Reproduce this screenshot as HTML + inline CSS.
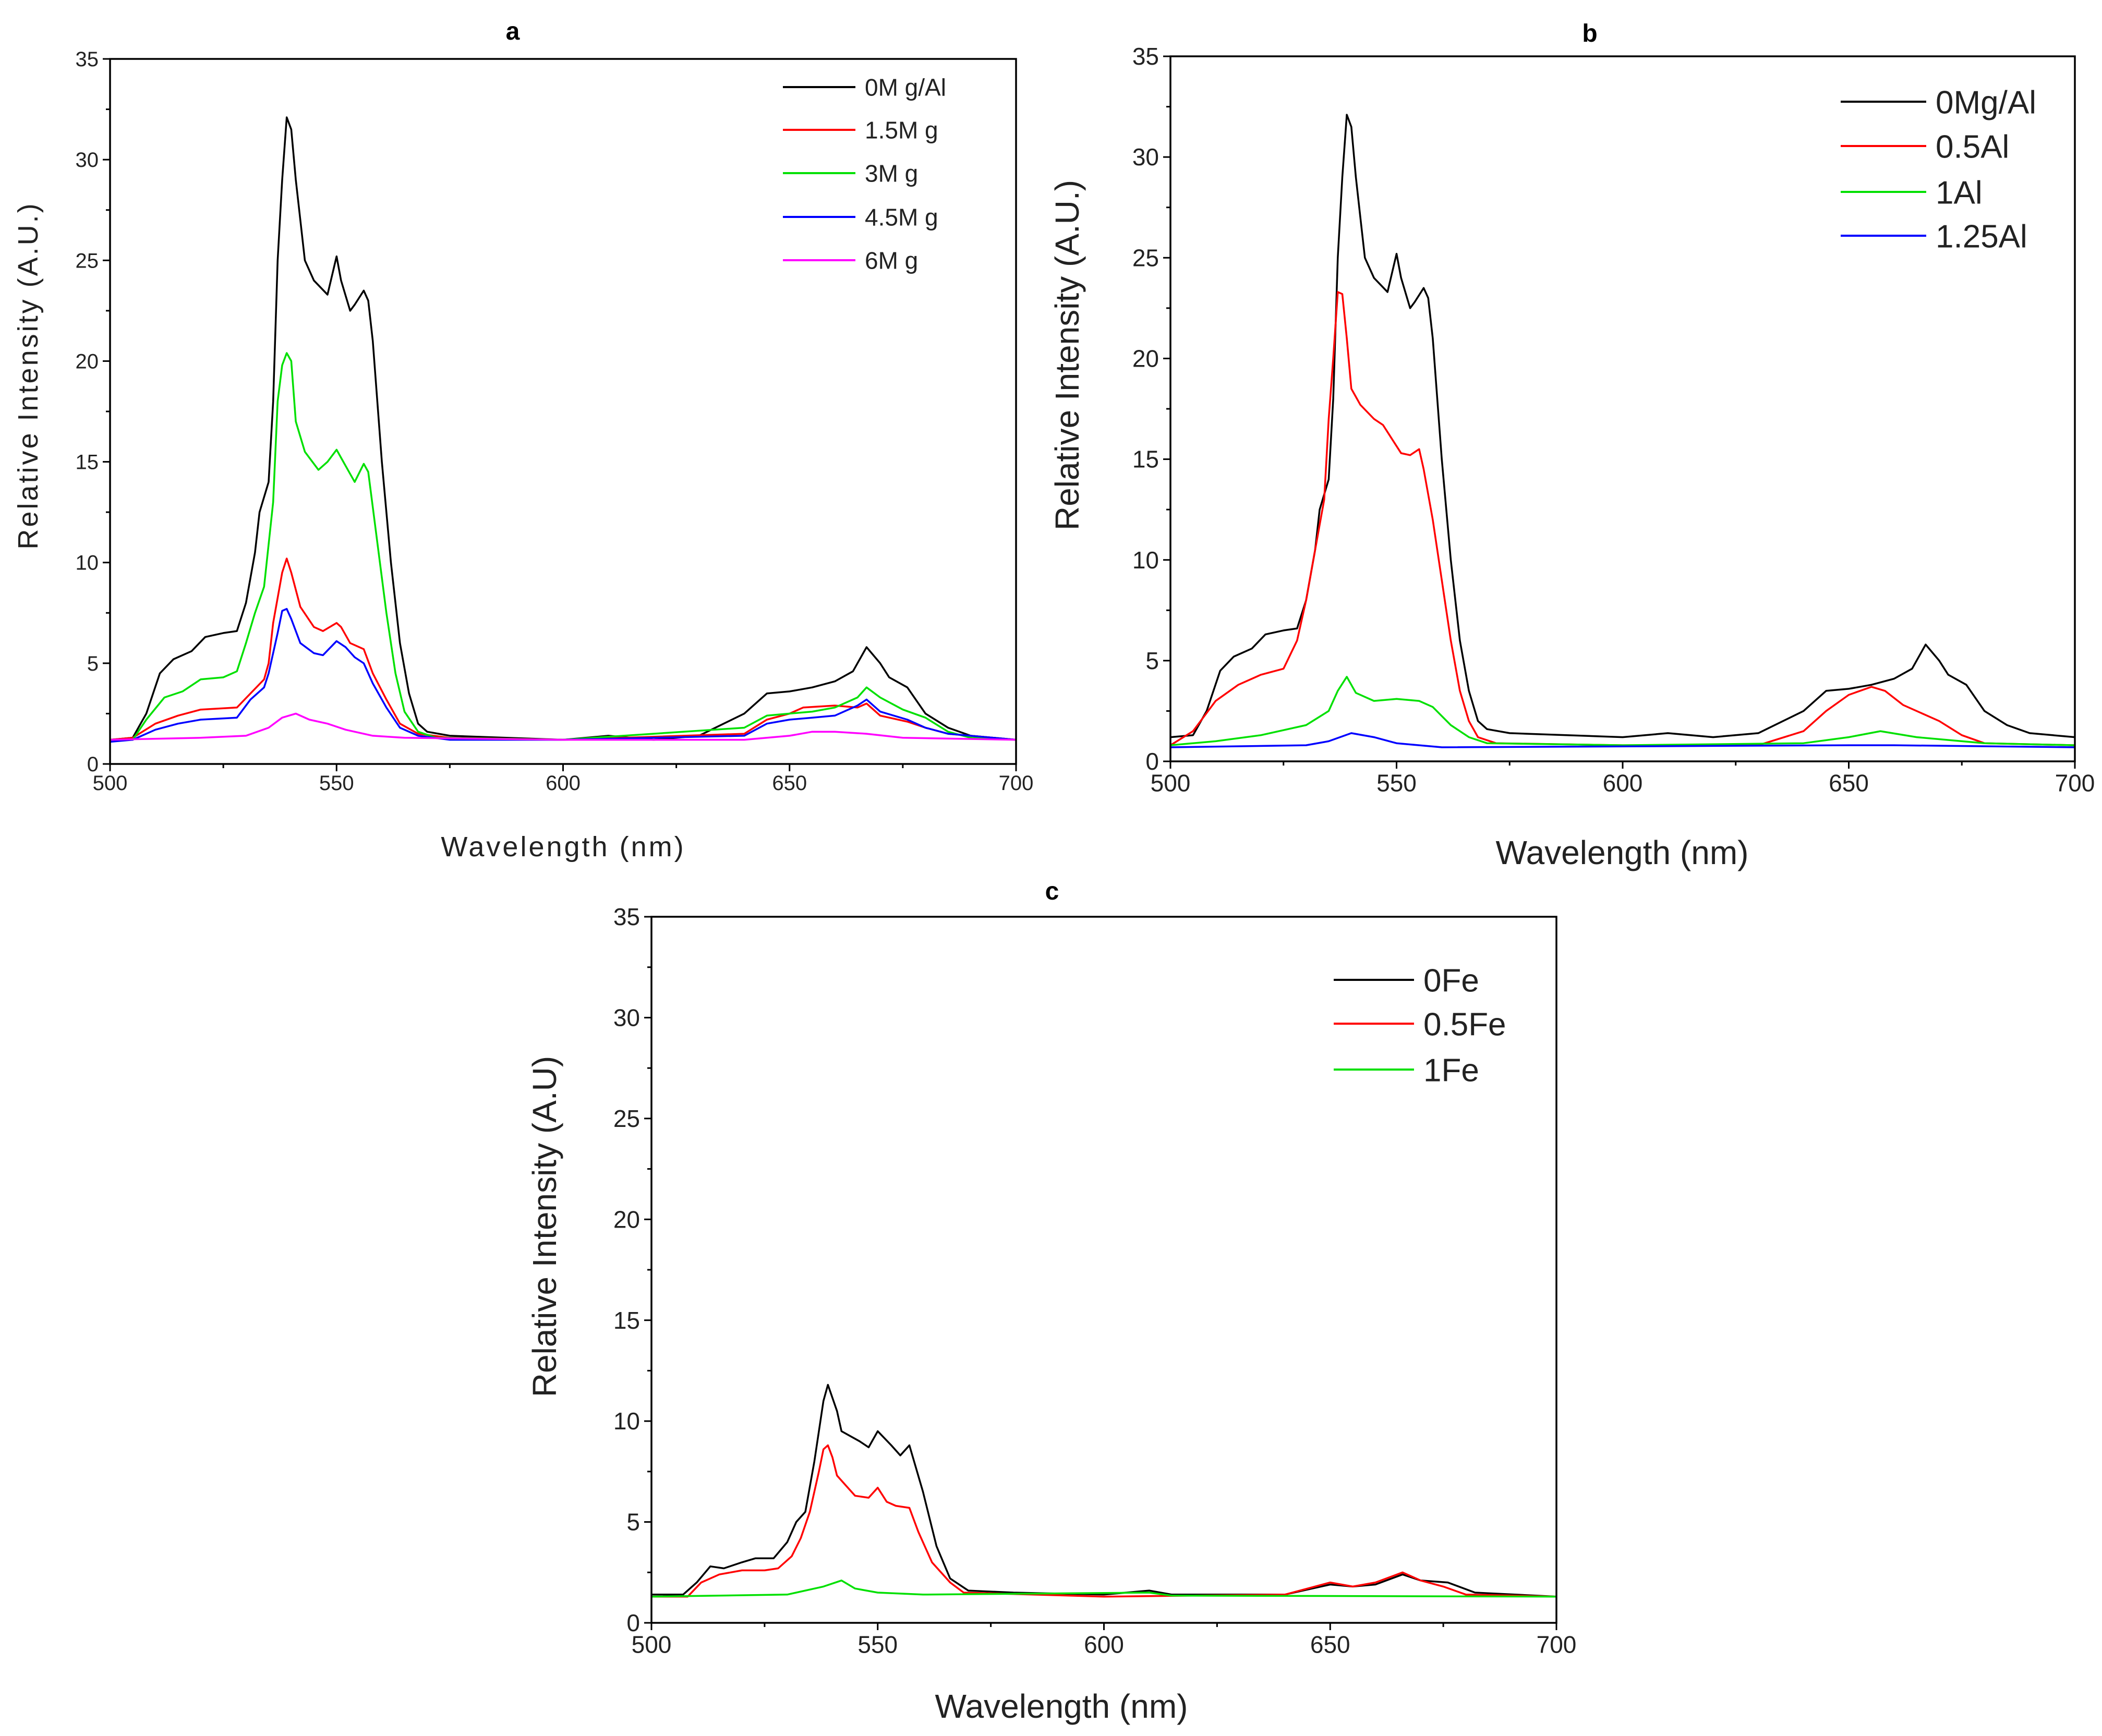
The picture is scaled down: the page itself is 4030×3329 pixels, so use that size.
<!DOCTYPE html>
<html><head><meta charset="utf-8"><style>
html,body{margin:0;padding:0;background:#fff;}
svg{display:block;font-family:"Liberation Sans",Arial,sans-serif;}
</style></head><body>
<svg id="fig" width="4030" height="3329" viewBox="0 0 4030 3329" xmlns="http://www.w3.org/2000/svg"></svg>
<script>
// ---- data (wavelength nm, intensity A.U.) ----
const xTicks = [500, 550, 600, 650, 700];
const yTicks = [0, 5, 10, 15, 20, 25, 30, 35];

const a_labels = ["0M g/Al", "1.5M g", "3M g", "4.5M g", "6M g"];
const a_black = [[500,1.2],[505,1.3],[508,2.5],[511,4.5],[514,5.2],[518,5.6],[521,6.3],[525,6.5],[528,6.6],[530,8],[532,10.5],[533,12.5],[535,14],[536,18],[537,25],[538,29],[539,32.1],[540,31.5],[541,29],[542,27],[543,25],[545,24],[548,23.3],[550,25.2],[551,24],[553,22.5],[554,22.8],[556,23.5],[557,23],[558,21],[560,15],[562,10],[564,6],[566,3.5],[568,2],[570,1.6],[575,1.4],[600,1.2],[610,1.4],[620,1.2],[630,1.4],[640,2.5],[645,3.5],[650,3.6],[655,3.8],[660,4.1],[664,4.6],[667,5.8],[670,5],[672,4.3],[676,3.8],[680,2.5],[685,1.8],[690,1.4],[700,1.2]];
const a_red = [[500,1.2],[505,1.3],[510,2],[515,2.4],[520,2.7],[528,2.8],[531,3.5],[534,4.2],[535,5],[536,7],[538,9.5],[539,10.2],[540,9.5],[542,7.8],[545,6.8],[547,6.6],[550,7],[551,6.8],[553,6],[556,5.7],[558,4.5],[561,3.2],[564,2],[568,1.5],[575,1.3],[600,1.2],[640,1.5],[645,2.2],[650,2.5],[653,2.8],[660,2.9],[665,2.8],[667,3],[670,2.4],[676,2.1],[680,1.8],[685,1.5],[700,1.2]];
const a_green = [[500,1.2],[505,1.2],[508,2.2],[512,3.3],[516,3.6],[520,4.2],[525,4.3],[528,4.6],[530,6],[532,7.5],[534,8.8],[536,13],[537,18],[538,19.8],[539,20.4],[540,20],[541,17],[543,15.5],[546,14.6],[548,15],[550,15.6],[552,14.8],[554,14],[556,14.9],[557,14.5],[559,11],[561,7.5],[563,4.5],[565,2.6],[568,1.6],[572,1.3],[600,1.2],[640,1.8],[645,2.4],[650,2.5],[655,2.6],[660,2.8],[665,3.3],[667,3.8],[670,3.3],[675,2.7],[680,2.3],[685,1.6],[690,1.3],[700,1.2]];
const a_blue = [[500,1.1],[505,1.2],[510,1.7],[515,2],[520,2.2],[528,2.3],[531,3.2],[534,3.8],[535,4.5],[537,6.5],[538,7.6],[539,7.7],[540,7.2],[542,6],[545,5.5],[547,5.4],[550,6.1],[552,5.8],[554,5.3],[556,5],[558,4],[561,2.8],[564,1.8],[568,1.4],[575,1.2],[600,1.2],[640,1.4],[645,2],[650,2.2],[655,2.3],[660,2.4],[665,2.9],[667,3.2],[670,2.6],[676,2.2],[680,1.8],[685,1.5],[700,1.2]];
const a_magenta = [[500,1.2],[520,1.3],[530,1.4],[535,1.8],[538,2.3],[541,2.5],[544,2.2],[548,2],[552,1.7],[558,1.4],[565,1.3],[600,1.2],[640,1.2],[650,1.4],[655,1.6],[660,1.6],[667,1.5],[675,1.3],[700,1.2]];

const b_labels = ["0Mg/Al", "0.5Al", "1Al", "1.25Al"];
const b_black = a_black;
const b_red = [[500,0.8],[505,1.5],[510,3],[515,3.8],[520,4.3],[525,4.6],[528,6],[530,8],[532,10.5],[534,13],[535,17],[536,20],[537,23.3],[538,23.2],[539,21],[540,18.5],[542,17.7],[545,17],[547,16.7],[549,16],[551,15.3],[553,15.2],[555,15.5],[556,14.5],[558,12],[560,9],[562,6],[564,3.5],[566,2],[568,1.2],[572,0.9],[600,0.8],[630,0.8],[640,1.5],[645,2.5],[650,3.3],[655,3.7],[658,3.5],[662,2.8],[670,2],[675,1.3],[680,0.9],[700,0.8]];
const b_green = [[500,0.8],[510,1],[520,1.3],[530,1.8],[535,2.5],[537,3.5],[539,4.2],[541,3.4],[545,3],[550,3.1],[555,3],[558,2.7],[562,1.8],[566,1.2],[570,0.9],[600,0.8],[640,0.9],[650,1.2],[657,1.5],[665,1.2],[680,0.9],[700,0.8]];
const b_blue = [[500,0.7],[530,0.8],[535,1],[540,1.4],[545,1.2],[550,0.9],[560,0.7],[650,0.8],[660,0.8],[700,0.7]];

const c_labels = ["0Fe", "0.5Fe", "1Fe"];
const c_black = [[500,1.4],[507,1.4],[510,2],[513,2.8],[516,2.7],[520,3],[523,3.2],[527,3.2],[530,4],[532,5],[534,5.5],[536,8],[538,11],[539,11.8],[541,10.5],[542,9.5],[546,9],[548,8.7],[550,9.5],[553,8.8],[555,8.3],[557,8.8],[560,6.5],[563,3.8],[566,2.2],[570,1.6],[580,1.5],[600,1.4],[610,1.6],[615,1.4],[640,1.4],[650,1.9],[655,1.8],[660,1.9],[666,2.4],[670,2.1],[676,2],[682,1.5],[700,1.3]];
const c_red = [[500,1.3],[508,1.3],[511,2],[515,2.4],[520,2.6],[525,2.6],[528,2.7],[531,3.3],[533,4.2],[535,5.5],[537,7.5],[538,8.6],[539,8.8],[540,8.2],[541,7.3],[543,6.8],[545,6.3],[548,6.2],[550,6.7],[552,6],[554,5.8],[557,5.7],[559,4.5],[562,3],[566,2],[569,1.5],[600,1.3],[640,1.4],[645,1.7],[650,2],[655,1.8],[660,2],[666,2.5],[670,2.1],[675,1.8],[680,1.4],[700,1.3]];
const c_green = [[500,1.3],[530,1.4],[538,1.8],[542,2.1],[545,1.7],[550,1.5],[560,1.4],[610,1.5],[615,1.35],[700,1.3]];

const NS = "http://www.w3.org/2000/svg";
const svg = document.getElementById("fig");
function mk(tag, attrs, parent) {
  const e = document.createElementNS(NS, tag);
  for (const k in attrs) e.setAttribute(k, attrs[k]);
  (parent || svg).appendChild(e);
  return e;
}

function panel(p) {
  const g = mk("g", {});
  
  
  const sx = v => p.L + (v - 500) / 200 * (p.R - p.L);
  const sy = v => p.B - v / 35 * (p.B - p.T);
  p.series.forEach((s, i) => {
    const pl = mk("polyline", {points: s.data.map(d => sx(d[0]).toFixed(1) + "," + sy(d[1]).toFixed(1)).join(" "), fill: "none", stroke: s.color, "stroke-width": 3.5, "stroke-linejoin": "round"}, g);
    
    
  });
  const fr = mk("rect", {x: p.L, y: p.T, width: p.R - p.L, height: p.B - p.T, fill: "none", stroke: "#000", "stroke-width": 3.5}, g);
  
  
  for (let v = 500; v <= 700; v += 25) {
    const major = v % 50 === 0;
    mk("line", {x1: sx(v), x2: sx(v), y1: p.B, y2: p.B + (major ? 14 : 8), stroke: "#000", "stroke-width": 3}, g);
  }
  xTicks.forEach(v => {
    const t = mk("text", {x: sx(v), y: p.B + p.tf * 1.25, "text-anchor": "middle", "font-size": p.tf, fill: "#222"}, g);
    t.textContent = v;
    
    
  });
  for (let v = 0; v <= 35; v += 2.5) {
    const major = v % 5 === 0;
    mk("line", {x1: p.L, x2: p.L - (major ? 14 : 8), y1: sy(v), y2: sy(v), stroke: "#000", "stroke-width": 3}, g);
  }
  yTicks.forEach(v => {
    const t = mk("text", {x: p.L - 22, y: sy(v) + p.tf * 0.35, "text-anchor": "end", "font-size": p.tf, fill: "#222"}, g);
    t.textContent = v;
    
    
  });
  const ti = mk("text", {x: p.titleX, y: p.titleY, "text-anchor": "middle", "font-size": 48, "font-weight": "bold"}, g);
  ti.textContent = p.id;
  
  
  const xl = mk("text", {x: p.xlX, y: p.xlY, "text-anchor": "middle", "font-size": p.af, fill: "#222", "letter-spacing": p.ls}, g);
  xl.textContent = "Wavelength (nm)";
  
  
  const yl = mk("text", {x: 0, y: 0, transform: "translate(" + p.ylX + "," + p.ylY + ") rotate(-90)", "text-anchor": "middle", "font-size": p.af, fill: "#222", "letter-spacing": p.ls}, g);
  yl.textContent = p.ytitle;
  
  
  p.series.forEach((s, i) => {
    const y = p.legY[i];
    const ln = mk("line", {x1: p.legX1, x2: p.legX2, y1: y, y2: y, stroke: s.color, "stroke-width": 4}, g);
    
    
    const t = mk("text", {x: p.legX2 + 18, y: y + p.lf * 0.36, "font-size": p.lf, fill: "#222"}, g);
    t.textContent = p.labels[i];
    
    
  });
}

panel({id: "a", L: 211, R: 1948, T: 113, B: 1465, tf: 40, af: 54, lf: 46, ls: 4,
  titleX: 983, titleY: 76, xlX: 1080, xlY: 1642, ylX: 72, ylY: 720, ytitle: "Relative Intensity (A.U.)",
  legX1: 1501, legX2: 1640, legY: [167, 249, 332, 416, 499], labels: a_labels,
  series: [{data: a_black, color: "#000"}, {data: a_red, color: "#ff0000"}, {data: a_green, color: "#00e000"}, {data: a_blue, color: "#0000ff"}, {data: a_magenta, color: "#ff00ff"}]});
panel({id: "b", L: 2244, R: 3978, T: 108, B: 1460, tf: 46, af: 64, lf: 62, ls: 0,
  titleX: 3048, titleY: 80, xlX: 3110, xlY: 1657, ylX: 2068, ylY: 681, ytitle: "Relative Intensity (A.U.)",
  legX1: 3529, legX2: 3693, legY: [195, 280, 368, 452], labels: b_labels,
  series: [{data: b_black, color: "#000"}, {data: b_red, color: "#ff0000"}, {data: b_green, color: "#00e000"}, {data: b_blue, color: "#0000ff"}]});
panel({id: "c", L: 1249, R: 2984, T: 1758, B: 3112, tf: 46, af: 64, lf: 62, ls: 0,
  titleX: 2017, titleY: 1725, xlX: 2035, xlY: 3294, ylX: 1066, ylY: 2352, ytitle: "Relative Intensity (A.U)",
  legX1: 2557, legX2: 2711, legY: [1879, 1963, 2051], labels: c_labels,
  series: [{data: c_black, color: "#000"}, {data: c_red, color: "#ff0000"}, {data: c_green, color: "#00e000"}]});
</script>
</body></html>
